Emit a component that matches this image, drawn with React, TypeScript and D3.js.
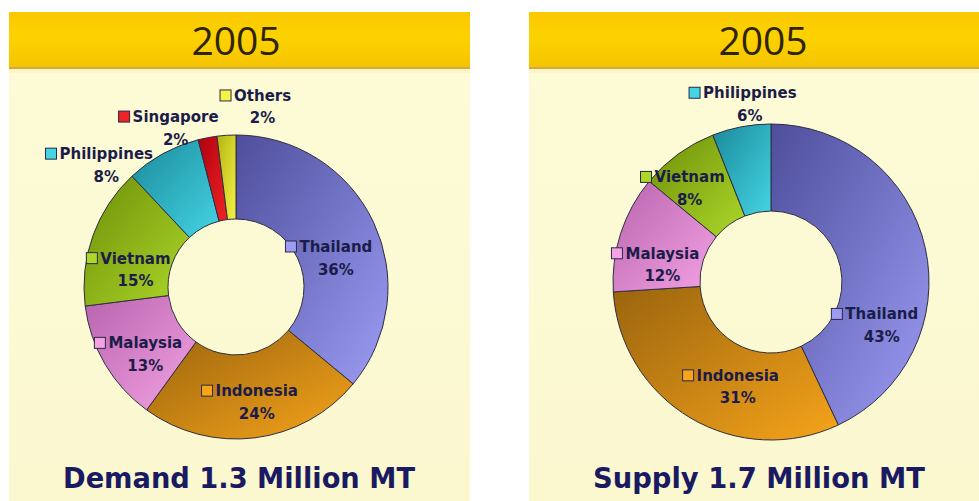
import React from "react";
import * as d3 from "d3";

// ---- data ----
const demandCategories = ["Thailand", "Indonesia", "Malaysia", "Vietnam", "Philippines", "Singapore", "Others"];
const demandValues = [36, 24, 13, 15, 8, 2, 2];
const supplyCategories = ["Thailand", "Indonesia", "Malaysia", "Vietnam", "Philippines"];
const supplyValues = [43, 31, 12, 8, 6];
const yearLabels = ["2005", "2005"];
const captions = ["Demand 1.3 Million MT", "Supply 1.7 Million MT"];

// ---- styles ----
const sliceColors: Record<string, [string, string]> = {
  Thailand: ["#4e4e9c", "#9c9cf4"],
  Indonesia: ["#9a640e", "#f6a41a"],
  Malaysia: ["#b864ae", "#f4a2e4"],
  Vietnam: ["#6e8e08", "#acd82a"],
  Philippines: ["#1a8a9a", "#44d4e4"],
  Singapore: ["#b00010", "#f02424"],
  Others: ["#b4b414", "#f4f444"],
};

// label placement relative to slice mid-angle (degrees) and radius from centre
const demandLabelShift = [9, -3, -6, -10, -18, -10, 12];
const demandLabelRadius = [104, 117, 113, 102, 178, 170, 182];
const supplyLabelShift = [34, -13, -9, -5, 4];
const supplyLabelRadius = [119, 110, 110, 124, 179];

const panels = [
  {
    id: "d",
    x: 9, w: 461, cx: 236, cy: 287, inner: 68, outer: 152, titleX: 236, capX: 239, capLen: 352,
    cats: demandCategories, vals: demandValues, shift: demandLabelShift, rad: demandLabelRadius,
  },
  {
    id: "s",
    x: 529, w: 460, cx: 771, cy: 282, inner: 71, outer: 158, titleX: 763, capX: 759, capLen: 332,
    cats: supplyCategories, vals: supplyValues, shift: supplyLabelShift, rad: supplyLabelRadius,
  },
];

const LABEL_FONT = "bold 15px 'DejaVu Sans', Verdana, sans-serif";
let measureCtx: CanvasRenderingContext2D | null = null;
function textWidth(s: string): number {
  if (!measureCtx) {
    const c = document.createElement("canvas");
    measureCtx = c.getContext("2d");
  }
  if (!measureCtx) return s.length * 9;
  measureCtx.font = LABEL_FONT;
  return measureCtx.measureText(s).width;
}

function Donut({ p }: { p: (typeof panels)[number] }) {
  const data = p.cats.map((c, i) => ({ cat: c, val: p.vals[i] }));
  const pie = d3.pie<{ cat: string; val: number }>().sort(null).value((d) => d.val).startAngle(0).endAngle(2 * Math.PI);
  const arcs = pie(data);
  const arc = d3.arc<d3.PieArcDatum<{ cat: string; val: number }>>().innerRadius(p.inner).outerRadius(p.outer);
  const total = d3.sum(p.vals);
  const fmt = d3.format(".0%");
  return (
    <g>
      <defs>
        {arcs.map((a) => (
          <linearGradient key={a.data.cat} id={`g-${p.id}-${a.data.cat}`} x1="0" y1="0" x2="1" y2="1">
            <stop offset="0%" stopColor={sliceColors[a.data.cat][0]} />
            <stop offset="100%" stopColor={sliceColors[a.data.cat][1]} />
          </linearGradient>
        ))}
      </defs>
      <g transform={`translate(${p.cx},${p.cy})`}>
        {arcs.map((a) => (
          <path key={a.data.cat} d={arc(a) || ""} fill={`url(#g-${p.id}-${a.data.cat})`} stroke="#2e2e40" strokeWidth={1} />
        ))}
        {arcs.map((a, i) => {
          const mid = (a.startAngle + a.endAngle) / 2 + (p.shift[i] * Math.PI) / 180;
          const r = p.rad[i];
          const [lx, ly] = d3.arc().innerRadius(r).outerRadius(r).centroid({ startAngle: mid, endAngle: mid } as any);
          const w = textWidth(a.data.cat);
          return (
            <g key={a.data.cat} fontFamily="'DejaVu Sans', Verdana, sans-serif" fontWeight="bold" fontSize={15} fill="#1c1c48">
              <rect x={lx - w / 2 - 14} y={ly - 17} width={11} height={11} fill={sliceColors[a.data.cat][1]} stroke="#2a2a48" strokeWidth={1} />
              <text x={lx} y={ly - 6} textAnchor="middle">{a.data.cat}</text>
              <text x={lx} y={ly + 16.5} textAnchor="middle">{fmt(a.data.val / total)}</text>
            </g>
          );
        })}
      </g>
    </g>
  );
}

export default function App() {
  return (
    <svg width={979} height={501} style={{ position: "absolute", left: 0, top: 0, background: "#ffffff" }}>
      <defs>
        <linearGradient id="hdr" x1="0" y1="0" x2="0" y2="1">
          <stop offset="0%" stopColor="#fbc800" />
          <stop offset="45%" stopColor="#fdd200" />
          <stop offset="100%" stopColor="#f5c400" />
        </linearGradient>
        <linearGradient id="body" x1="0" y1="0" x2="0" y2="1">
          <stop offset="0%" stopColor="#fdfcd8" />
          <stop offset="100%" stopColor="#fbf8d0" />
        </linearGradient>
      </defs>
      {panels.map((p, k) => (
        <g key={p.id}>
          <rect x={p.x} y={12} width={p.w} height={489} fill="url(#body)" />
          <rect x={p.x} y={12} width={p.w} height={56} fill="url(#hdr)" />
          <rect x={p.x} y={67} width={p.w} height={2} fill="#d4a848" />
          <rect x={p.x} y={69} width={p.w} height={4} fill="#fdf6c4" />
          <text x={p.titleX} y={55} textAnchor="middle" fontFamily="'Open Sans', sans-serif" fontSize={39} fill="#2e2408">
            {yearLabels[k]}
          </text>
          <Donut p={p} />
          <text
            x={p.capX}
            y={488}
            textAnchor="middle"
            fontFamily="'DejaVu Sans', Verdana, sans-serif"
            fontWeight="bold"
            fontSize={29}
            fill="#1a1a62"
            textLength={p.capLen}
            lengthAdjust="spacingAndGlyphs"
          >
            {captions[k]}
          </text>
        </g>
      ))}
    </svg>
  );
}
